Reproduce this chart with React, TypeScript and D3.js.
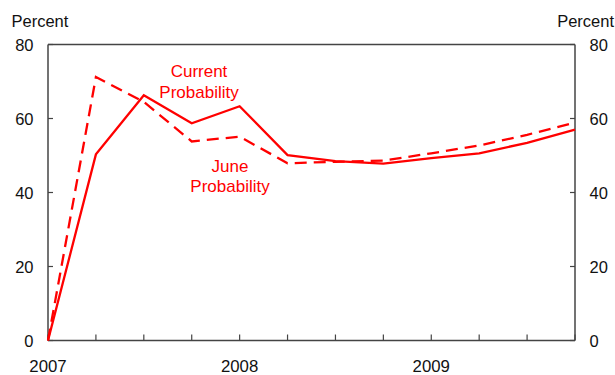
import React from "react";
import * as d3 from "d3";

const quarters = [0, 1, 2, 3, 4, 5, 6, 7, 8, 9, 10, 11];
const currentProb = [0, 50.3, 66.3, 58.7, 63.3, 50.1, 48.5, 47.8, 49.3, 50.6, 53.4, 57.0];
const juneProb = [0, 71.2, 64.5, 53.8, 55.1, 47.9, 48.3, 48.6, 50.6, 52.7, 55.6, 58.9];
const yTicks = [0, 20, 40, 60, 80];
const yearLabels = [
  { q: 0, label: "2007" },
  { q: 4, label: "2008" },
  { q: 8, label: "2009" },
];

const W = 615;
const H = 375;
const left = 48;
const right = 575;
const top = 44.5;
const bottom = 340.5;
const axisColor = "#444444";
const red = "#ff0000";
const font = "'Liberation Sans', Arial, sans-serif";

export default function App() {
  const x = d3.scaleLinear().domain([0, 11]).range([left, right]);
  const y = d3.scaleLinear().domain([0, 80]).range([bottom, top]);
  const line = d3
    .line<number>()
    .x((_, i) => x(quarters[i]))
    .y((d) => y(d));

  return (
    <svg
      width={W}
      height={H}
      style={{ position: "absolute", left: 0, top: 0, background: "#fff" }}
      fontFamily={font}
    >
      <rect x={0} y={0} width={W} height={H} fill="#fff" />
      {/* frame */}
      <line x1={left} x2={right} y1={top} y2={top} stroke={axisColor} strokeWidth={1.5} />
      <line x1={left} x2={left} y1={top} y2={bottom} stroke={axisColor} strokeWidth={1.5} />
      <line x1={right} x2={right} y1={top} y2={bottom} stroke={axisColor} strokeWidth={1.5} />
      <line x1={left} x2={right} y1={bottom} y2={bottom} stroke={axisColor} strokeWidth={1.5} />
      {/* y ticks */}
      {yTicks.map((t) => (
        <g key={t}>
          <line x1={left} x2={left + 5} y1={y(t)} y2={y(t)} stroke={axisColor} strokeWidth={1.2} />
          <line x1={right - 5} x2={right} y1={y(t)} y2={y(t)} stroke={axisColor} strokeWidth={1.2} />
          <text x={33.5} y={y(t) + 6} textAnchor="end" fontSize={16.5} fill="#111">
            {t}
          </text>
          <text x={589.5} y={y(t) + 6} textAnchor="start" fontSize={16.5} fill="#111">
            {t}
          </text>
        </g>
      ))}
      {/* x ticks */}
      {quarters.map((q) => (
        <line key={q} x1={x(q)} x2={x(q)} y1={bottom} y2={bottom - 6} stroke={axisColor} strokeWidth={1.2} />
      ))}
      {yearLabels.map((d) => (
        <text key={d.label} x={x(d.q)} y={371.5} textAnchor="middle" fontSize={16.8} fill="#111">
          {d.label}
        </text>
      ))}
      <text x={11.5} y={26.5} fontSize={16.5} fill="#111">Percent</text>
      <text x={614} y={26.5} textAnchor="end" fontSize={16.5} fill="#111">Percent</text>
      {/* series */}
      <path d={line(juneProb) || ""} fill="none" stroke={red} strokeWidth={2.3} strokeDasharray="12,7" />
      <path d={line(currentProb) || ""} fill="none" stroke={red} strokeWidth={2.3} />
      <text x={199} y={76.7} textAnchor="middle" fontSize={17} fill={red}>Current</text>
      <text x={199} y={97.7} textAnchor="middle" fontSize={17} fill={red}>Probability</text>
      <text x={230} y={172.3} textAnchor="middle" fontSize={17} fill={red}>June</text>
      <text x={230} y={191.7} textAnchor="middle" fontSize={17} fill={red}>Probability</text>
    </svg>
  );
}
